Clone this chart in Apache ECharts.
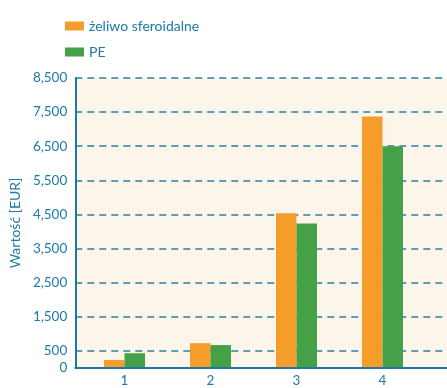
<!DOCTYPE html>
<html><head><meta charset="utf-8">
<script src="https://cdn.jsdelivr.net/npm/echarts@6/dist/echarts.min.js"></script>
<style>html,body{margin:0;padding:0;background:#fff}#c{width:447px;height:388px}</style>
</head><body><div id="c"></div>
<script>
const categories = ['1', '2', '3', '4'];
const seriesNames = ['żeliwo sferoidalne', 'PE'];
const zeliwo = [205, 700, 4520, 7370];
const pe = [405, 645, 4220, 6490];
const yMin = 0, yMax = 8500, yStep = 500;

const blue = '#1f77a6';
const textBlue = '#2079a8';
const font = 'Lato';

const chart = echarts.init(document.getElementById('c'), null, {renderer: 'canvas'});
chart.setOption({
  animation: false,
  textStyle: {fontFamily: font},
  legend: {
    orient: 'vertical', left: 60, top: 14, itemWidth: 19, itemHeight: 9, itemGap: 12,
    icon: 'rect',
    textStyle: {color: textBlue, fontSize: 14, fontFamily: font},
    data: seriesNames
  },
  grid: [
    {left: 61, right: 0, top: 78, bottom: 20, show: true, backgroundColor: '#fcf6ea', borderWidth: 0},
    {left: 81.5, right: 21.5, top: 78, bottom: 20}
  ],
  xAxis: [
    {type: 'category', gridIndex: 0, data: [''], axisLine: {lineStyle: {color: blue, width: 2}}, axisTick: {show: false}, axisLabel: {show: false}},
    {type: 'category', gridIndex: 1, data: categories, axisLine: {show: false}, axisTick: {show: false},
     axisLabel: {color: textBlue, fontSize: 13.5, margin: 7, fontFamily: font}}
  ],
  yAxis: [
    {type: 'value', gridIndex: 0, min: yMin, max: yMax, interval: yStep,
     name: 'Wartość [EUR]', nameLocation: 'middle', nameGap: 48,
     nameTextStyle: {color: textBlue, fontSize: 14, fontFamily: font},
     axisLine: {show: true, lineStyle: {color: blue, width: 2}}, axisTick: {show: false},
     axisLabel: {color: textBlue, fontSize: 13.5, margin: 8, fontFamily: font,
       formatter: v => (v === 0 || (v / yStep) % 2 === 1) ? v.toLocaleString('en-US') : ''},
     splitLine: {show: true, lineStyle: {color: ['rgba(0,0,0,0)', '#2a7fa6'], type: [7, 5], width: 1.5}}},
    {type: 'value', gridIndex: 1, min: yMin, max: yMax, show: false, splitLine: {show: false}}
  ],
  series: [
    {name: seriesNames[0], type: 'bar', xAxisIndex: 1, yAxisIndex: 1, data: zeliwo, barWidth: 20.5, barGap: '0%', itemStyle: {color: '#f59d2a'}},
    {name: seriesNames[1], type: 'bar', xAxisIndex: 1, yAxisIndex: 1, data: pe, barWidth: 20.5, barGap: '0%', itemStyle: {color: '#46a047'}}
  ]
});
</script></body></html>
